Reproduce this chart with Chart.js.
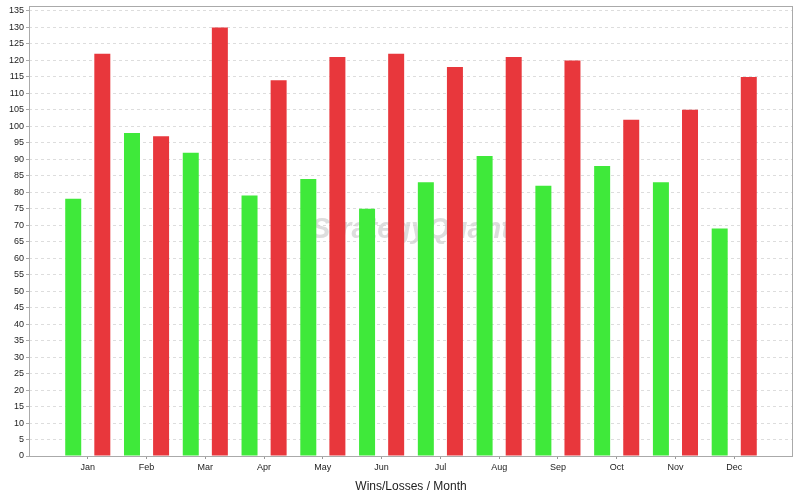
<!DOCTYPE html>
<html>
<head>
<meta charset="utf-8">
<script src="https://cdn.jsdelivr.net/npm/chart.js@4/dist/chart.umd.min.js"></script>
<style>
  body { margin: 0; background: #fff; }
  canvas { display: block; }
</style>
</head>
<body>
<canvas id="chart" width="800" height="500"></canvas>
<script>
// Data
const months = ['Jan', 'Feb', 'Mar', 'Apr', 'May', 'Jun', 'Jul', 'Aug', 'Sep', 'Oct', 'Nov', 'Dec'];
const wins = [78, 98, 92, 79, 84, 75, 83, 91, 82, 88, 83, 69];
const losses = [122, 97, 130, 114, 121, 122, 118, 121, 120, 102, 105, 115];
const yMax = 136.5;
const yStep = 5;

// Empty slot at each end so the months sit a full category in from the frame
const labels = ['', ...months, ''];
const pad = arr => [null, ...arr, null];

const font = { family: '"Liberation Sans", Arial, sans-serif', size: 9 };

// Frame round the plot + watermark behind the bars
const framePlugin = {
  id: 'frame',
  beforeDatasetsDraw(chart) {
    const { ctx, chartArea: a } = chart;
    ctx.save();
    ctx.font = 'italic bold 29px "Liberation Sans", Arial, sans-serif';
    ctx.fillStyle = 'rgba(210, 210, 210, 0.75)';
    ctx.textAlign = 'center';
    ctx.textBaseline = 'middle';
    ctx.fillText('StrategyQuant', (a.left + a.right) / 2, 230);
    ctx.restore();
  },
  afterDraw(chart) {
    const { ctx, chartArea: a } = chart;
    ctx.save();
    ctx.strokeStyle = '#aaaaaa';
    ctx.lineWidth = 1;
    ctx.strokeRect(a.left + 0.5, a.top + 0.5, a.right - a.left - 1, a.bottom - a.top);
    ctx.restore();
  }
};

new Chart(document.getElementById('chart'), {
  type: 'bar',
  data: {
    labels: labels,
    datasets: [
      {
        label: 'Wins',
        data: pad(wins),
        backgroundColor: '#3fe93a',
        borderWidth: 0,
        categoryPercentage: 0.99,
        barPercentage: 0.55
      },
      {
        label: 'Losses',
        data: pad(losses),
        backgroundColor: '#e8373c',
        borderWidth: 0,
        categoryPercentage: 0.99,
        barPercentage: 0.55
      }
    ]
  },
  options: {
    responsive: false,
    animation: false,
    layout: { padding: { top: 6, right: 7, left: 0, bottom: 0 } },
    plugins: {
      legend: { display: false },
      tooltip: { enabled: false }
    },
    scales: {
      x: {
        offset: false,
        grid: {
          offset: false,
          drawOnChartArea: false,
          tickLength: 3,
          // no tick mark on the empty end slots
          color: ctx => labels[ctx.index] ? '#999999' : 'rgba(0,0,0,0)'
        },
        border: { display: false },
        ticks: {
          color: '#222',
          font: font,
          padding: 3,
          maxRotation: 0,
          autoSkip: false
        },
        title: {
          display: true,
          text: 'Wins/Losses / Month',
          color: '#222',
          font: { family: '"Liberation Sans", Arial, sans-serif', size: 12 },
          padding: { top: 4, bottom: 6 }
        },
        afterFit(scale) {
          scale.height = 44;
          scale.paddingRight = 0;
          scale.paddingLeft = 0;
        }
      },
      y: {
        min: 0,
        max: yMax,
        grid: {
          color: '#dddddd',
          tickLength: 3,
          tickColor: '#aaaaaa'
        },
        border: { display: false, dash: [3, 3] },
        ticks: {
          stepSize: yStep,
          includeBounds: false,
          color: '#222',
          font: font,
          padding: 2
        },
        afterFit(scale) {
          scale.width = 29;
          scale.paddingTop = 0;
          scale.paddingBottom = 0;
        }
      }
    }
  },
  plugins: [framePlugin]
});
</script>
</body>
</html>
